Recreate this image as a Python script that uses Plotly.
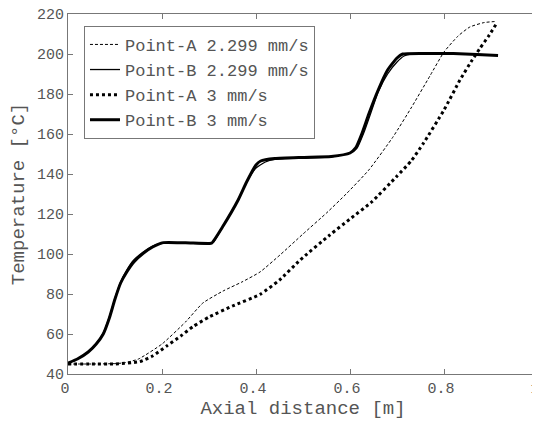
import plotly.graph_objects as go

# Point-A 2.299 mm/s
xa1 = [0, 0.05, 0.1, 0.12, 0.15, 0.2, 0.25, 0.287, 0.33, 0.37, 0.4085, 0.451, 0.5, 0.55,
       0.593, 0.64, 0.692, 0.73, 0.77, 0.80, 0.83, 0.855, 0.885, 0.912]
ta1 = [45, 45, 45.2, 45.6, 47.5, 55, 66, 75.5, 81.5, 86, 91, 99.5, 110, 120.5,
       130.3, 142, 158.7, 173, 189, 201, 209, 213.5, 215.7, 216.3]

# Point-B 2.299 mm/s
xb1 = [0, 0.02, 0.043, 0.06, 0.075, 0.088, 0.1, 0.112, 0.125, 0.14, 0.16, 0.18, 0.203, 0.25,
       0.30, 0.31, 0.33, 0.362, 0.38, 0.40, 0.42, 0.44, 0.5, 0.56, 0.6, 0.615, 0.63, 0.645,
       0.66, 0.68, 0.70, 0.715, 0.73, 0.76, 0.82, 0.87, 0.915]
tb1 = [45.5, 47.5, 51, 55, 60.5, 68.5, 78, 86, 92, 97, 101, 104, 105.5, 105.5,
       105, 106, 114, 127, 136, 143, 146, 147.3, 148, 148.6, 150.5, 153, 161, 171,
       181, 190, 196, 199, 200, 200.3, 200.2, 199.8, 199.4]

# Point-A 3 mm/s
xa2 = [0, 0.05, 0.1, 0.153, 0.18, 0.21, 0.24, 0.266, 0.3, 0.35, 0.4085, 0.45, 0.494, 0.557,
       0.6, 0.646, 0.699, 0.73, 0.756, 0.8, 0.834, 0.86, 0.877, 0.895, 0.912]
ta2 = [45, 45, 45, 46.2, 49, 54, 59, 63.7, 68.5, 74, 79.8, 87, 97, 109.5,
       117.5, 126, 138.7, 146.5, 155.3, 172, 187, 197, 203, 209, 215.3]

# Point-B 3 mm/s
xb2 = [0, 0.02, 0.043, 0.06, 0.075, 0.088, 0.1, 0.112, 0.125, 0.14, 0.16, 0.18, 0.203, 0.25,
       0.30, 0.306, 0.33, 0.362, 0.38, 0.40, 0.41, 0.44, 0.5, 0.56, 0.6, 0.612, 0.625, 0.64,
       0.66, 0.68, 0.70, 0.712, 0.76, 0.82, 0.87, 0.915]
tb2 = [45.5, 47.5, 51, 55, 60, 68, 77.5, 85.5, 91, 96, 100.3, 103.5, 105.7, 105.6,
       105.3, 105.5, 114, 127, 136, 144.5, 146.5, 147.7, 148.3, 148.8, 150.5, 153, 160, 170,
       182, 192, 198, 200, 200.3, 200.2, 199.8, 199.2]

xticks = [0, 0.2, 0.4, 0.6, 0.8, 1]
xticklabels = ["0", "0.2", "0.4", "0.6", "0.8", "1"]
yticks = [40, 60, 80, 100, 120, 140, 160, 180, 200, 220]

FONT = "Liberation Mono, Courier New, monospace"
GRAY = "#555555"

fig = go.Figure()
fig.add_trace(go.Scatter(x=xa1, y=ta1, mode="lines", name="Point-A 2.299 mm/s",
                         line=dict(color="black", width=1, dash="3px,2px", shape="spline", smoothing=0.5)))
fig.add_trace(go.Scatter(x=xb1, y=tb1, mode="lines", name="Point-B 2.299 mm/s",
                         line=dict(color="black", width=1.3, shape="spline", smoothing=0.5)))
fig.add_trace(go.Scatter(x=xa2, y=ta2, mode="lines", name="Point-A 3 mm/s",
                         line=dict(color="black", width=3, dash="3px,3px", shape="spline", smoothing=0.5)))
fig.add_trace(go.Scatter(x=xb2, y=tb2, mode="lines", name="Point-B 3 mm/s",
                         line=dict(color="black", width=3, shape="spline", smoothing=0.5)))

axis_common = dict(showgrid=False, zeroline=False, showline=True, linecolor="#777777", linewidth=1,
                   mirror="ticks", ticks="inside", ticklen=5, tickcolor="#777777", automargin=False,
                   ticklabeloverflow="allow",
                   tickfont=dict(family=FONT, size=15, color=GRAY))

fig.update_xaxes(range=[0, 1], tickvals=xticks, ticktext=xticklabels, ticklabelshift=-3,
                 title=dict(text="Axial distance [m]", font=dict(family=FONT, size=19, color=GRAY), standoff=2),
                 **axis_common)
fig.update_yaxes(range=[40, 220], tickvals=yticks,
                 title=dict(text="Temperature [°C]", font=dict(family=FONT, size=19, color=GRAY), standoff=8),
                 **axis_common)

# the page body adds an 8px offset, so margins are reduced accordingly
fig.update_layout(
    width=540, height=426,
    margin=dict(l=60, r=10, t=6, b=60),
    paper_bgcolor="white", plot_bgcolor="white",
    showlegend=True,
    legend=dict(x=0.034, y=0.967, xanchor="left", yanchor="top",
                bgcolor="white", bordercolor="#777777", borderwidth=1,
                font=dict(family=FONT, size=17, color=GRAY),
                tracegroupgap=0, itemwidth=30),
)

fig.write_html("out.html")
